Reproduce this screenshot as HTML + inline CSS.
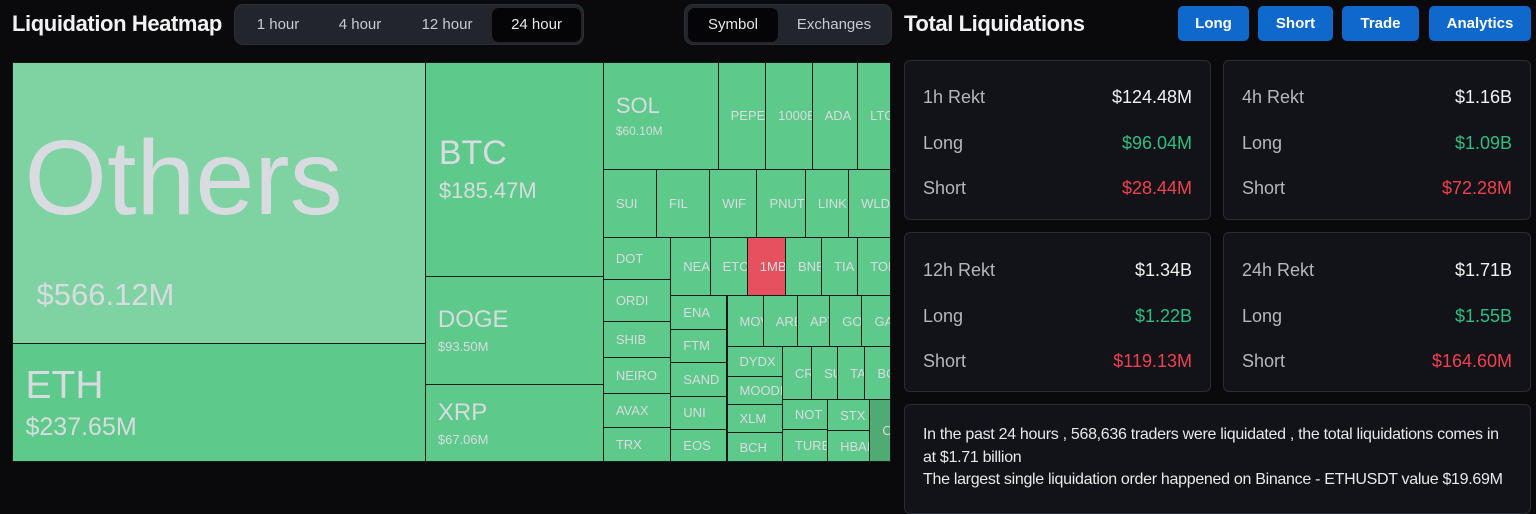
<!DOCTYPE html>
<html><head><meta charset="utf-8">
<style>
*{box-sizing:border-box;margin:0;padding:0}
body{width:1536px;height:496px;background:#0a0a0d;font-family:"Liberation Sans",sans-serif;color:#fff;position:relative;overflow:hidden}
.title{position:absolute;font-weight:bold;font-size:22px;letter-spacing:-0.4px;color:#f2f2f2}
.tabs{position:absolute;background:#22252b;border-radius:9px;border:1px solid #2c2f36}
.tab{position:absolute;top:3px;height:34px;line-height:34px;text-align:center;font-size:15px;color:#c8cad0;border-radius:7px}
.tab.active{background:#050507;color:#e6e6e6}
.btn{position:absolute;top:6px;height:35px;line-height:35px;background:#0f69cc;border-radius:5px;text-align:center;font-weight:bold;font-size:15px;color:#fff}
.card{position:absolute;background:#121318;border:1px solid #2a2c33;border-radius:6px}
.row{position:absolute;left:18px;right:18px;font-size:18px;color:#b4b7bd}
.row span{position:absolute;right:0;top:0}
.tm{position:absolute;left:12px;top:62px;width:879px;height:400px;background:#1a1a1a}
.cell{position:absolute;overflow:hidden;color:#d8dce0;white-space:nowrap;display:flex;flex-direction:column;justify-content:center}
</style></head><body>
<div class="title" style="left:12px;top:11px">Liquidation Heatmap</div>
<div class="tabs" style="left:234px;top:4px;width:350px;height:41px">
 <div class="tab" style="left:3px;width:80px">1 hour</div>
 <div class="tab" style="left:83px;width:84px">4 hour</div>
 <div class="tab" style="left:167px;width:90px">12 hour</div>
 <div class="tab active" style="left:257px;width:89px">24 hour</div>
</div>
<div class="tabs" style="left:684px;top:4px;width:208px;height:41px">
 <div class="tab active" style="left:3px;width:90px">Symbol</div>
 <div class="tab" style="left:95px;width:108px">Exchanges</div>
</div>
<div class="title" style="left:904px;top:11px">Total Liquidations</div>
<div class="btn" style="left:1178px;width:71px">Long</div>
<div class="btn" style="left:1258px;width:75px">Short</div>
<div class="btn" style="left:1342px;width:77px">Trade</div>
<div class="btn" style="left:1429px;width:102px">Analytics</div>

<div class="card" style="left:904px;top:60px;width:307px;height:160px">
 <div class="row" style="top:26px">1h Rekt<span style="color:#f0f0f0">$124.48M</span></div>
 <div class="row" style="top:72px">Long<span style="color:#2ebd85">$96.04M</span></div>
 <div class="row" style="top:117px">Short<span style="color:#f0404f">$28.44M</span></div>
</div>
<div class="card" style="left:1223px;top:60px;width:308px;height:160px">
 <div class="row" style="top:26px">4h Rekt<span style="color:#f0f0f0">$1.16B</span></div>
 <div class="row" style="top:72px">Long<span style="color:#2ebd85">$1.09B</span></div>
 <div class="row" style="top:117px">Short<span style="color:#f0404f">$72.28M</span></div>
</div>
<div class="card" style="left:904px;top:232px;width:307px;height:160px">
 <div class="row" style="top:27px">12h Rekt<span style="color:#f0f0f0">$1.34B</span></div>
 <div class="row" style="top:73px">Long<span style="color:#2ebd85">$1.22B</span></div>
 <div class="row" style="top:118px">Short<span style="color:#f0404f">$119.13M</span></div>
</div>
<div class="card" style="left:1223px;top:232px;width:308px;height:160px">
 <div class="row" style="top:27px">24h Rekt<span style="color:#f0f0f0">$1.71B</span></div>
 <div class="row" style="top:73px">Long<span style="color:#2ebd85">$1.55B</span></div>
 <div class="row" style="top:118px">Short<span style="color:#f0404f">$164.60M</span></div>
</div>
<div class="card" style="left:904px;top:404px;width:627px;height:110px;font-size:16px;letter-spacing:-0.3px;color:#e8e8e8;line-height:22.5px;padding:19px 18px;white-space:nowrap">
 In the past 24 hours , 568,636 traders were liquidated , the total liquidations comes in<br>at $1.71 billion<br>The largest single liquidation order happened on Binance - ETHUSDT value $19.69M
</div>

<div class="tm" id="tm"></div>
<script>
const col1Names=["Others","ETH"];const col1Values=[566.12,237.65];
const col2Names=["BTC","DOGE","XRP"];const col2Values=[185.47,93.50,67.06];
const rowANames=["SOL","PEPE","1000BONK","ADA","LTC"];const rowAValues=[60.10,24.9,24.3,23.8,17.5];
const rowBNames=["SUI","FIL","WIF","PNUT","LINK","WLD"];const rowBValues=[17.6,17.6,15.6,16.0,14.3,14.0];
const colDotNames=["DOT","ORDI","SHIB","NEIRO","AVAX","TRX"];const colDotValues=[13.8,13.8,11.8,11.8,11.2,11.2];
const rowNeaNames=["NEAR","ETC","1MBABYDOGE","BNB","TIA","TON"];const rowNeaValues=[11.1,10.5,10.8,10.2,10.2,9.4];
const colEnaNames=["ENA","FTM","SAND","UNI","EOS"];const colEnaValues=[9.3,8.8,9.3,9.0,9.0];
const rowMovNames=["MOVE","ARB","APT","GOAT","GALA"];const rowMovValues=[9.0,8.5,8.0,8.0,7.2];
const colDydxNames=["DYDX","MOODENG","XLM","BCH"];const colDydxValues=[8.1,7.5,7.5,7.9];
const rowCrNames=["CRV","SUSHI","TAO","BOME"];const rowCrValues=[7.5,6.7,7.0,6.7];
const colNotNames=["NOT","TURBO"];const colNotValues=[6.6,7.1];
const colStxNames=["STX","HBAR"];const colStxValues=[6.4,6.4];
const restNames=["Other"];const restValues=[6.4];
const shortHeavy=["1MBABYDOGE"];

function leaves(n,v){return n.map((name,i)=>({name,value:v[i]}));}
function node(dir,children){return {dir,children};}
const tree=node('h',[
 node('v',leaves(col1Names,col1Values)),
 node('v',leaves(col2Names,col2Values)),
 node('v',[
  node('h',leaves(rowANames,rowAValues)),
  node('h',leaves(rowBNames,rowBValues)),
  node('h',[
   node('v',leaves(colDotNames,colDotValues)),
   node('v',[
    node('h',leaves(rowNeaNames,rowNeaValues)),
    node('h',[
     node('v',leaves(colEnaNames,colEnaValues)),
     node('v',[
      node('h',leaves(rowMovNames,rowMovValues)),
      node('h',[
       node('v',leaves(colDydxNames,colDydxValues)),
       node('v',[
        node('h',leaves(rowCrNames,rowCrValues)),
        node('h',[node('v',leaves(colNotNames,colNotValues)),node('v',leaves(colStxNames,colStxValues)),...leaves(restNames,restValues)])
       ])
      ])
     ])
    ])
   ])
  ])
 ])
]);
function total(n){return n.children?n.children.reduce((s,c)=>s+total(c),0):n.value;}
const tm=document.getElementById('tm');
function layout(n,x,y,w,h){
 if(!n.children){draw(n,x,y,w,h);return;}
 const t=total(n);let off=0;
 n.children.forEach(c=>{const f=total(c)/t;
  if(n.dir==='h'){layout(c,x+off,y,w*f,h);off+=w*f;}else{layout(c,x,y+off,w,h*f);off+=h*f;}});
}
function draw(n,x,y,w,h){
 const d=document.createElement('div');
 d.className='cell';
 
 
 d.style.left=(x+0.5)+'px';d.style.top=(y+0.5)+'px';d.style.width=(w-1)+'px';d.style.height=(h-1)+'px';
 let bg='#5dc98a';
 if(n.name==='Others')bg='#7fd3a2';
 if(shortHeavy.includes(n.name))bg='#e5515f';
 if(n.name==='Other')bg='#4faa74';
 d.style.background=bg;
 let ns=13,vs=0,pad=12,gap=6,vpad=12;
 if(n.value>500){ns=106;vs=31;pad=12;gap=48;vpad=24;}
 else if(n.value>150){ns=n.name==='ETH'?39:34;vs=n.name==='ETH'?25:22;pad=13;gap=10;vpad=13;}
 else if(n.value>60.5){ns=24;vs=13;pad=12;gap=8;vpad=12;}
 else if(n.value>50){ns=22;vs=12;pad=12;gap=8;vpad=12;}
 const a=document.createElement('div');
 a.textContent=n.name==='Other'?'Others':n.name;
 a.style.fontSize=ns+'px';a.style.lineHeight='1';a.style.paddingLeft=pad+'px';
 if(n.value>500)a.style.marginTop='30px';
 d.appendChild(a);
 if(vs){const b=document.createElement('div');b.textContent='$'+n.value.toFixed(2)+'M';
  b.style.fontSize=vs+'px';b.style.lineHeight='1';b.style.marginTop=gap+'px';b.style.paddingLeft=vpad+'px';
  d.appendChild(b);}
 tm.appendChild(d);
}
layout(tree,0,0,879,400);
</script>
</body></html>
